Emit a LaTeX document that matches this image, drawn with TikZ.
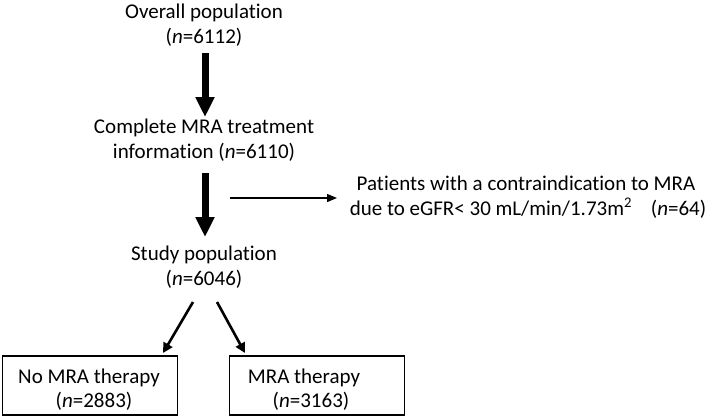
\documentclass[tikz,border=0pt]{standalone}
\usepackage{fontspec}
\setmainfont{Carlito}[Ligatures={NoCommon,NoContextual}]
\usetikzlibrary{arrows.meta}
\begin{document}
\begin{tikzpicture}[x=1pt,y=-1pt,
  txt/.style={font=\fontsize{21}{25}\selectfont, inner sep=0pt, anchor=base},
  bigarrow/.style={line width=7pt, -{Triangle[width=18pt 0 0,length=20pt 0 0]}},
  midarrow/.style={line width=2.6pt, -{Triangle[width=10pt 0 0,length=10pt 0 0]}},
  thinarrow/.style={line width=1.2pt, -{Triangle[width=8pt 0 0,length=10pt 0 0]}},
  boxstyle/.style={draw, line width=1.2pt, minimum width=175pt, minimum height=59pt, inner sep=0pt}]
\useasboundingbox (0,0) rectangle (709,418);
% top nodes
\node[txt] (ov1) at (204,18) {Overall population};
\node[txt] (ov2) at (204,43) {(\textit{n}=6112)};
\node[txt] (cm1) at (204,133) {Complete MRA treatment};
\node[txt] (cm2) at (204,158) {information (\textit{n}=6110)};
\node[txt] (st1) at (204,260) {Study population};
\node[txt] (st2) at (204,285) {(\textit{n}=6046)};
\node[txt] (pt1) at (526,190) {Patients with a contraindication to MRA};
\node[txt] (pt2) at (528,215) {due to eGFR< 30 mL/min/1.73m\textsuperscript{2}\hspace{0.9em}(\textit{n}=64)};
% boxes
\node[boxstyle] (b1) at (90,385.5) {};
\node[boxstyle] (b2) at (317,385.5) {};
\node[txt] (b1a) at (89,383) {No MRA therapy};
\node[txt] (b1b) at (94,407) {(\textit{n}=2883)};
\node[txt] (b2a) at (304,383) {MRA therapy};
\node[txt] (b2b) at (311,407) {(\textit{n}=3163)};
% connector coordinates
\coordinate (a1s) at (205,53);
\coordinate (a1e) at (205,117);
\coordinate (a2s) at (205,173);
\coordinate (a2e) at (205,237);
\coordinate (ths) at (230,198);
\coordinate (the) at (337,198);
\coordinate (l1s) at (193,302);
\coordinate (r1s) at (217,302);
\coordinate (l1e) at (163,353);
\coordinate (r1e) at (245,353);
\draw[bigarrow] (a1s) -- (a1e);
\draw[bigarrow] (a2s) -- (a2e);
\draw[thinarrow] (ths) -- (the);
\draw[midarrow] (l1s) -- (l1e);
\draw[midarrow] (r1s) -- (r1e);
\end{tikzpicture}
\end{document}
